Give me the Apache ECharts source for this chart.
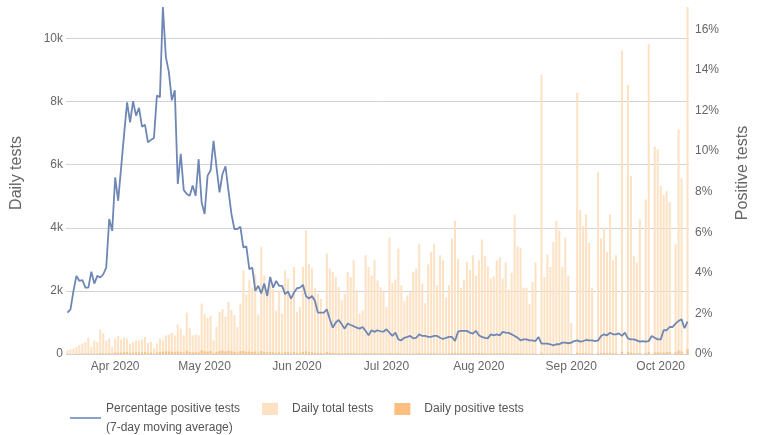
<!DOCTYPE html>
<html><head><meta charset="utf-8">
<script src="https://cdn.jsdelivr.net/npm/echarts@6/dist/echarts.min.js"></script>
<style>html,body{margin:0;padding:0;background:#fff}#c{width:759px;height:435px}</style>
</head><body><div id="c"></div>
<script>
// Categories: one per day, 16 Mar 2020 .. 10 Oct 2020
const startDate = [2020, 2, 16];
const dayCount = 209;
const monthNames = ['Jan','Feb','Mar','Apr','May','Jun','Jul','Aug','Sep','Oct','Nov','Dec'];
const categories = [];
for (let i = 0; i < dayCount; i++) {
  const d = new Date(Date.UTC(startDate[0], startDate[1], startDate[2] + i));
  categories.push(d.getUTCFullYear() + '-' + String(d.getUTCMonth() + 1).padStart(2, '0') + '-' + String(d.getUTCDate()).padStart(2, '0'));
}

// Daily total tests
const dailyTests = [
  120,150,170,220,280,330,380,510,220,430,380,770,650,430,490,220,
  490,570,460,520,490,330,380,430,430,460,540,350,380,170,330,490,430,590,620,670,
  590,930,800,590,1310,830,590,620,590,1600,1250,1140,1210,430,860,1330,1420,1180,1650,1390,1230,850,1600,
  2650,1890,2330,2100,2530,1250,3410,2490,2020,2440,2060,1380,
  2020,1280,2650,2390,1750,2760,1330,1490,2760,3920,2840,2710,2100,1910,1750,1330,3180,2710,2600,2440,2120,1700,1910,2600,2440,2970,2020,1280,1380,3130,2760,2490,2970,2330,2120,
  1960,1490,3690,2250,2360,3340,2180,1670,1860,1960,2600,2710,3480,2230,1610,2840,3230,3480,2180,3130,2970,1800,2180,3660,4220,3020,2100,2360,2920,2670,3130,2490,2970,3630,3100,2780,
  2390,2460,2970,3060,2390,2900,2040,2570,4420,3410,3370,2100,2100,1590,2280,2900,0,8850,2440,3150,2760,3550,4220,3920,2760,3690,2490,980,0,8280,4560,4050,4430,3520,2100,
  0,5780,3660,4010,3230,4420,2970,3130,0,9620,0,8530,5640,3110,2900,4270,0,4900,9820,0,6570,6490,5330,5040,5160,4820,0,3480,7120,5570,0,11000
];

// Daily positive tests
const dailyPositive = [
  3,4,5,8,9,12,12,18,9,15,14,30,25,17,28,14,
  40,45,40,55,58,38,45,50,52,50,60,36,40,22,42,60,72,85,80,75,
  55,80,70,45,105,65,50,55,48,120,85,75,95,30,62,95,110,80,105,85,70,48,90,
  100,70,80,65,75,40,95,70,55,65,55,40,50,35,60,55,40,65,35,40,65,90,
  60,55,40,35,30,25,55,40,35,30,25,20,22,30,28,32,22,15,15,30,25,22,28,22,20,
  20,14,32,22,20,28,15,12,14,15,20,22,28,18,12,22,25,28,16,24,22,14,15,30,34,30,24,25,30,28,32,25,28,30,25,22,
  20,22,25,28,22,26,18,20,32,24,22,14,14,10,15,18,0,40,12,15,14,16,22,20,14,20,13,6,0,45,26,24,28,22,14,
  0,35,25,35,30,40,28,30,0,75,0,70,40,22,20,30,0,32,65,0,48,50,42,45,55,60,0,50,110,85,0,160
];

// Percentage positive tests, 7-day moving average (%)
const pctPositive = [
  2.04,2.2,3.1,3.85,3.6,3.64,3.27,3.27,4.06,3.47,3.85,3.77,3.93,4.26,6.65,6.07,8.7,7.55,9.2,10.85,12.4,11.42,12.46,11.75,12.13,11.2,11.3,10.43,10.55,10.65,12.74,12.66,17.1,14.63,13.9,12.5,
  13.0,8.38,9.86,8.08,7.89,7.8,8.3,7.8,9.6,7.47,6.9,8.79,9.04,10.5,9.2,7.97,8.87,9.25,8.05,6.9,6.16,6.16,6.27,5.25,5.3,4.18,4.26,3.11,3.36,2.98,3.47,2.86,3.8,3.27,3.6,
  3.36,3.36,2.95,3.08,2.73,3.03,3.24,3.27,3.41,2.86,2.73,2.86,2.62,2.04,2.04,2.04,2.2,1.71,1.3,1.55,1.68,1.47,1.25,1.5,1.43,1.37,1.3,1.25,1.33,1.14,0.92,1.17,1.09,1.17,1.12,
  1.1,1.22,1.05,0.89,1.05,0.72,0.67,0.8,0.84,0.89,0.77,0.8,0.97,0.89,0.89,0.84,0.84,0.89,0.89,0.8,0.74,0.8,0.84,0.84,0.64,1.1,1.14,1.14,1.14,1.05,1.0,1.14,0.92,0.84,0.8,0.77,
  0.97,0.92,0.97,0.92,1.09,1.05,1.04,0.97,0.89,0.8,0.67,0.72,0.72,0.67,0.67,0.64,0.84,0.51,0.51,0.51,0.48,0.43,0.48,0.48,0.56,0.56,0.53,0.56,0.64,0.67,0.61,0.64,0.69,0.67,0.67,
  0.64,0.67,0.89,0.97,0.92,1.05,0.97,0.97,1.02,0.89,1.05,0.77,0.72,0.72,0.67,0.61,0.64,0.61,0.64,0.89,0.8,0.72,0.72,1.17,1.17,1.33,1.33,1.5,1.63,1.71,1.27,1.6
];

const seriesNames = ['Percentage positive tests\n(7-day moving average)', 'Daily total tests', 'Daily positive tests'];
const leftAxisName = 'Daily tests';
const rightAxisName = 'Positive tests';

const font = '"Liberation Sans", Arial, sans-serif';
const textColor = '#666';
const chart = echarts.init(document.getElementById('c'), null, {renderer: 'canvas'});
chart.setOption({
  animation: false,
  textStyle: {fontFamily: font},
  grid: {left: 66, right: 68, top: 7, bottom: 81, containLabel: false},
  legend: [
    {
      data: [{name: seriesNames[0], icon: 'rect', itemStyle: {color: '#8aa0c8'}}],
      left: 70, top: 399, padding: 0, itemWidth: 31, itemHeight: 2,
      textStyle: {fontFamily: font, fontSize: 12, color: '#555', lineHeight: 19}
    },
    {
      data: [{name: seriesNames[1], icon: 'rect'}, {name: seriesNames[2], icon: 'rect'}],
      left: 262, top: 403, padding: 0, itemWidth: 16, itemHeight: 12, itemGap: 21,
      textStyle: {fontFamily: font, fontSize: 12, color: '#555', padding: [0, 0, 0, 9]}
    }
  ],
  xAxis: {
    type: 'category', data: categories, boundaryGap: true,
    axisLine: {show: false}, axisTick: {show: false},
    axisLabel: {
      interval: (i, v) => v.slice(8) === '01',
      formatter: v => monthNames[parseInt(v.slice(5, 7), 10) - 1] + ' ' + v.slice(0, 4),
      color: textColor, fontSize: 12, margin: 7, fontFamily: font
    }
  },
  yAxis: [
    {
      type: 'value', min: 0, max: 'dataMax', interval: 2000,
      name: leftAxisName, nameLocation: 'middle', nameGap: 41, nameRotate: 90,
      nameTextStyle: {fontSize: 16, color: textColor, fontFamily: font, padding: [0, 0, 0, 15]},
      axisLine: {show: false}, axisTick: {show: false},
      axisLabel: {formatter: v => v === 0 ? '0' : (v / 1000) + 'k', showMaxLabel: false, margin: 3, color: textColor, fontSize: 12, fontFamily: font},
      splitLine: {lineStyle: {color: '#d2d2d2', width: 1}, showMaxLine: false}
    },
    {
      type: 'value', min: 0, max: 'dataMax', interval: 2, position: 'right',
      name: rightAxisName, nameLocation: 'middle', nameGap: 46, nameRotate: 90,
      nameTextStyle: {fontSize: 16, color: textColor, fontFamily: font, padding: [0, 0, 0, 15]},
      axisLine: {show: false}, axisTick: {show: false},
      axisLabel: {formatter: '{value}%', showMaxLabel: false, margin: 6, color: textColor, fontSize: 12, fontFamily: font},
      splitLine: {show: false}
    }
  ],
  series: [
    {name: seriesNames[1], type: 'bar', yAxisIndex: 0, data: dailyTests, barWidth: '68%', barGap: '-100%', itemStyle: {color: '#fde1c3'}},
    {name: seriesNames[2], type: 'bar', yAxisIndex: 0, data: dailyPositive, barWidth: '68%', barGap: '-100%', itemStyle: {color: '#fbbf80'}},
    {name: seriesNames[0], type: 'line', yAxisIndex: 1, data: pctPositive, symbol: 'none', showSymbol: false,
     lineStyle: {color: '#6e87b4', width: 1.8}, itemStyle: {color: '#6e87b4'}, z: 5}
  ]
});
</script></body></html>
